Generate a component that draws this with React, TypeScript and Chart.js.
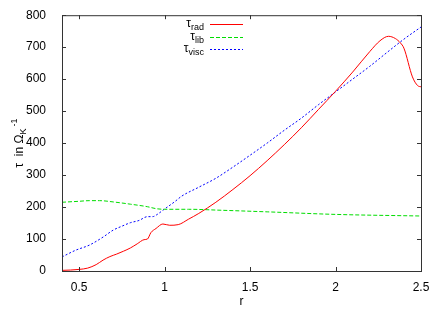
import React, { useEffect, useRef } from "react";
import { Chart, registerables } from "chart.js";

Chart.register(...registerables);

const rRad = [0.4, 0.45, 0.5, 0.55, 0.6, 0.64, 0.68, 0.72, 0.76, 0.8, 0.84, 0.88, 0.9, 0.92, 0.95, 0.99, 1.03, 1.08, 1.14, 1.2, 1.3, 1.4, 1.5, 1.6, 1.7, 1.8, 1.9, 2.0, 2.1, 2.2, 2.26, 2.31, 2.35, 2.38, 2.4, 2.45, 2.48, 2.5];
const tauRad = [2, 3, 5, 9, 20, 34, 45, 53, 62, 72, 85, 98, 100, 120, 133, 147, 143, 145, 162, 180, 215, 255, 298, 345, 395, 448, 505, 562, 622, 686, 720, 734, 727, 713, 697, 607, 580, 576];

const rLib = [0.4, 0.5, 0.56, 0.62, 0.7, 0.8, 0.9, 0.95, 1.0, 1.14, 1.33, 1.6, 2.0, 2.5];
const tauLib = [215, 218, 220, 220, 216, 209, 201, 195, 193, 193, 190, 185, 177, 172];

const rVisc = [0.4, 0.48, 0.56, 0.64, 0.7, 0.75, 0.8, 0.85, 0.9, 0.93, 0.96, 0.99, 1.06, 1.1, 1.2, 1.3, 1.4, 1.5, 1.6, 1.7, 1.8, 1.9, 2.0, 2.1, 2.2, 2.3, 2.4, 2.5];
const tauVisc = [44, 65, 81, 106, 128, 140, 151, 158, 170, 170, 178, 190, 217, 234, 262, 290, 325, 362, 400, 440, 478, 520, 560, 600, 640, 683, 725, 763];

const xTicks = [0.5, 1, 1.5, 2, 2.5];
const yTicks = [0, 100, 200, 300, 400, 500, 600, 700, 800];

const seriesNames = ["rad", "lib", "visc"];
const seriesColors = ["#ff0000", "#00dd00", "#0000ff"];
const seriesDash = [[], [4, 2], [2, 2]];

const FONT = "'Liberation Sans', Arial, sans-serif";

function pts(xs: number[], ys: number[]) {
  return xs.map((x, i) => ({ x, y: ys[i] }));
}

const framePlugin = {
  id: "frame",
  afterDraw(chart: any) {
    const ctx = chart.ctx;
    const a = chart.chartArea;
    const xs = chart.scales.x;
    const ys = chart.scales.y;
    ctx.save();
    ctx.strokeStyle = "#333";
    ctx.lineWidth = 1;
    ctx.strokeRect(a.left + 0.5, a.top + 0.5, a.right - a.left, a.bottom - a.top);
    ctx.beginPath();
    const tl = 4;
    xTicks.forEach((v) => {
      const px = Math.round(xs.getPixelForValue(v)) + 0.5;
      ctx.moveTo(px, a.bottom);
      ctx.lineTo(px, a.bottom - tl);
      ctx.moveTo(px, a.top);
      ctx.lineTo(px, a.top + tl);
    });
    yTicks.forEach((v) => {
      const py = Math.round(ys.getPixelForValue(v)) + 0.5;
      ctx.moveTo(a.left, py);
      ctx.lineTo(a.left + tl, py);
      ctx.moveTo(a.right, py);
      ctx.lineTo(a.right - tl, py);
    });
    ctx.stroke();

    // x title
    ctx.fillStyle = "#000";
    ctx.font = `12px ${FONT}`;
    ctx.textAlign = "center";
    ctx.textBaseline = "alphabetic";
    ctx.fillText("r", (a.left + a.right) / 2, 305);

    // y title rotated
    ctx.save();
    ctx.translate(19, (a.top + a.bottom) / 2);
    ctx.rotate(-Math.PI / 2);
    const parts: [string, number, number][] = [
      ["τ  in Ω", 12, 0],
      ["K", 9, 3],
      ["-1", 9, -6],
    ];
    let total = 0;
    parts.forEach(([t, s]) => {
      ctx.font = `${s}px ${FONT}`;
      total += ctx.measureText(t).width + (t === "-1" ? 2 : 0);
    });
    let cx = -total / 2;
    ctx.textAlign = "left";
    parts.forEach(([t, s, dy]) => {
      ctx.font = `${s}px ${FONT}`;
      if (t === "-1") cx += 2;
      ctx.fillText(t, cx, 4 + dy);
      cx += ctx.measureText(t).width;
    });
    ctx.restore();

    // legend
    const rows = [24, 37, 49];
    rows.forEach((y, i) => {
      ctx.font = `9px ${FONT}`;
      const subW = ctx.measureText(seriesNames[i]).width;
      const subX = 204 - subW;
      ctx.textAlign = "left";
      ctx.fillText(seriesNames[i], subX, y + 6);
      ctx.font = `12px ${FONT}`;
      const tw = ctx.measureText("τ").width;
      ctx.fillText("τ", subX - tw, y + 3);
      ctx.beginPath();
      ctx.strokeStyle = seriesColors[i];
      ctx.setLineDash(seriesDash[i]);
      ctx.moveTo(210, y + 0.5);
      ctx.lineTo(243, y + 0.5);
      ctx.stroke();
      ctx.setLineDash([]);
    });
    ctx.restore();
  },
};

export default function App() {
  const ref = useRef<HTMLCanvasElement | null>(null);
  useEffect(() => {
    if (!ref.current) return;
    const datasets = [pts(rRad, tauRad), pts(rLib, tauLib), pts(rVisc, tauVisc)].map((d, i) => ({
      label: "τ" + seriesNames[i],
      data: d,
      borderColor: seriesColors[i],
      borderWidth: 1,
      borderDash: seriesDash[i],
      pointRadius: 0,
      fill: false,
      cubicInterpolationMode: "monotone" as const,
    }));
    const chart = new Chart(ref.current, {
      type: "line",
      data: { datasets },
      options: {
        animation: false,
        responsive: false,
        maintainAspectRatio: false,
        layout: { padding: { left: 0, top: 15, right: 21, bottom: 0 } },
        plugins: { legend: { display: false }, tooltip: { enabled: false } },
        scales: {
          x: {
            type: "linear",
            min: 0.4,
            max: 2.5,
            grid: { display: false },
            border: { display: false },
            afterBuildTicks: (s: any) => {
              s.ticks = xTicks.map((v) => ({ value: v }));
            },
            afterFit: (s: any) => {
              s.height = 38;
            },
            ticks: {
              padding: 1,
              color: "#000",
              font: { family: FONT, size: 12 },
              callback: (v: any) => String(v),
            },
          },
          y: {
            type: "linear",
            min: 0,
            max: 800,
            grid: { display: false },
            border: { display: false },
            afterBuildTicks: (s: any) => {
              s.ticks = yTicks.map((v) => ({ value: v }));
            },
            afterFit: (s: any) => {
              s.width = 62;
            },
            ticks: {
              padding: 8,
              color: "#000",
              font: { family: FONT, size: 12 },
            },
          },
        },
      },
      plugins: [framePlugin],
    });
    return () => chart.destroy();
  }, []);
  return (
    <div style={{ position: "fixed", left: 0, top: 0, width: 442, height: 309, background: "#fff" }}>
      <canvas ref={ref} width={442} height={309} />
    </div>
  );
}
